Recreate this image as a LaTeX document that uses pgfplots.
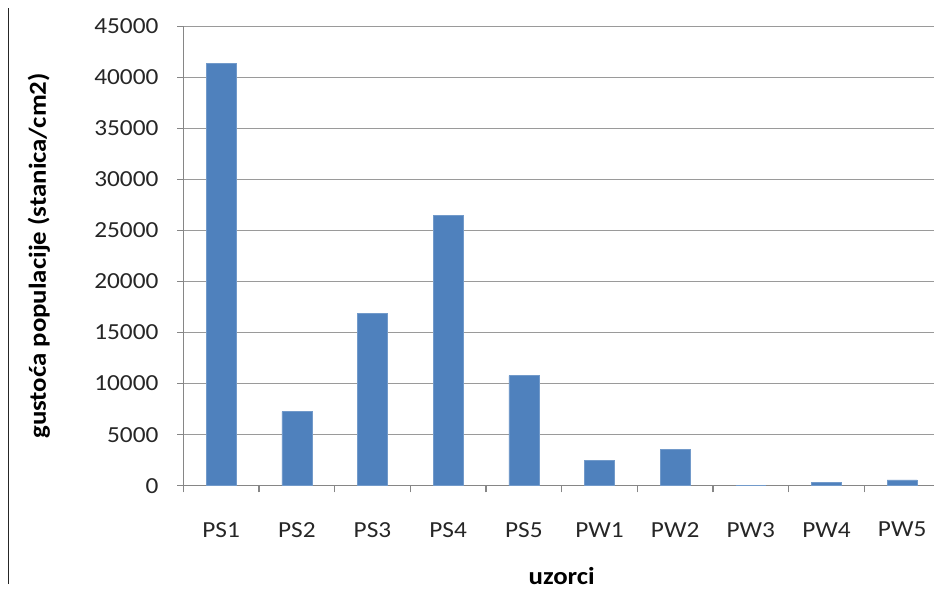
\documentclass[border=0pt]{standalone}
\usepackage{fontspec}
\setmainfont[FakeStretch=1.1]{Carlito}
\usepackage{pgfplots}
\pgfplotsset{compat=1.18}
\definecolor{barblue}{HTML}{4F81BD}
\definecolor{gridgray}{HTML}{9A9A9A}
\definecolor{axisgray}{HTML}{868686}
\begin{document}
\begin{tikzpicture}
\useasboundingbox (0pt,0pt) rectangle (700.5pt,441.75pt);
\draw[line width=1.1pt, black!85] (6.4pt,3.75pt) -- (6.4pt,435.75pt);
\begin{axis}[
  at={(137.5pt,77.5pt)}, anchor=south west,
  scale only axis,
  width=567.5pt, height=344.5pt,
  xmin=-0.5, xmax=9.5,
  ymin=0, ymax=45000,
  axis x line*=bottom, axis y line*=left,
  axis line style={axisgray, line width=0.9pt},
  ytick={0,5000,...,45000},
  ymajorgrids, grid style={gridgray, line width=0.9pt},
  xtick={0,...,9},
  xticklabels={PS1,PS2,PS3,PS4,PS5,PW1,PW2,PW3,PW4,PW5},
  x tick style={draw=none},
  extra x ticks={-0.5,0.5,...,9.5},
  extra x tick labels={},
  extra x tick style={x tick style={draw=axisgray, line width=0.9pt}, tick align=outside, major tick length=5pt, grid=none},
  y tick style={draw=axisgray, line width=0.9pt},
  tick align=outside, major tick length=4.5pt,
  scaled y ticks=false,
  /pgf/number format/.cd, 1000 sep={}, assume math mode=true,
  /pgfplots/.cd,
  tick label style={font=\fontsize{17.25}{20}\selectfont, text=black!85},
  yticklabel style={anchor=east, inner sep=0pt, xshift=-14pt},
  xticklabel style={anchor=center, inner sep=0pt, yshift=-28.5pt},
  every axis y label/.style={at={(axis description cs:-0.191,0.5)}, rotate=90, anchor=center, font=\bfseries\fontsize{18.3}{21}\selectfont},
  every axis x label/.style={at={(axis description cs:0.5,-0.197)}, anchor=center, font=\bfseries\fontsize{18.3}{21}\selectfont},
  ylabel={gustoća populacije (stanica/cm2)},
  xlabel={uzorci},
  ybar, bar width=22.5pt,
]
\addplot[fill=barblue, draw=barblue!80!white, line width=0.5pt] coordinates {
  (0,41370) (1,7250) (2,16850) (3,26450) (4,10780)
  (5,2450) (6,3530) (7,0) (8,320) (9,560)
};
\end{axis}
\end{tikzpicture}
\end{document}
